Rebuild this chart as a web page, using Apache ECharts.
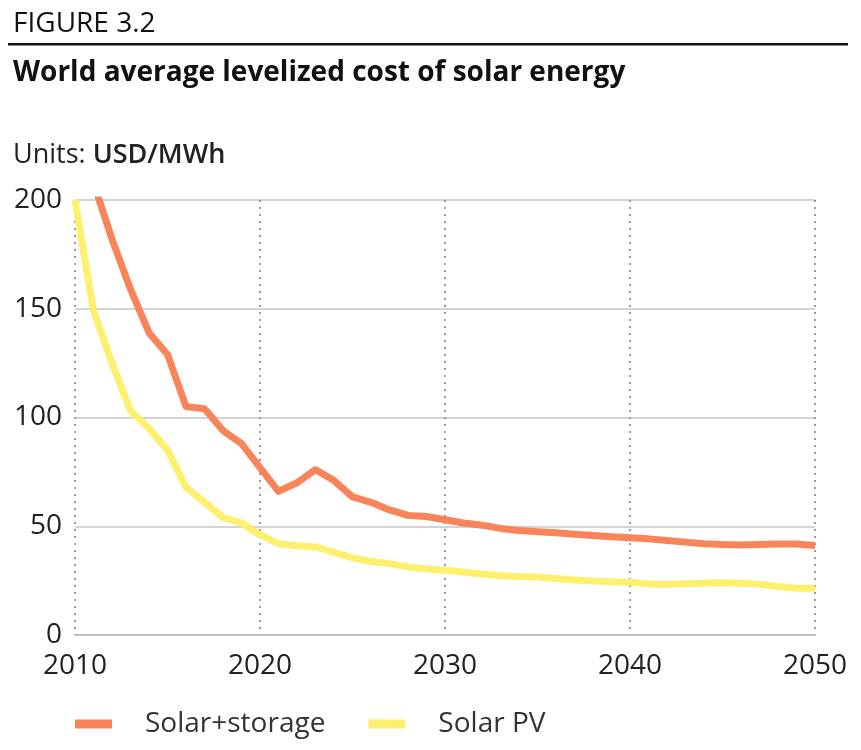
<!DOCTYPE html>
<html>
<head>
<meta charset="utf-8">
<script src="https://cdn.jsdelivr.net/npm/echarts@6/dist/echarts.min.js"></script>
<style>
html,body{margin:0;padding:0;background:#fff;}
#chart{width:861px;height:750px;}
</style>
</head>
<body>
<div id="chart"></div>
<script>
const years = [2010,2011,2012,2013,2014,2015,2016,2017,2018,2019,2020,2021,2022,2023,2024,2025,2026,2027,2028,2029,2030,2031,2032,2033,2034,2035,2036,2037,2038,2039,2040,2041,2042,2043,2044,2045,2046,2047,2048,2049,2050];
const solarStorage = [null,208,182,159,139,129,105,104,94,88,77,66,70,76,71,63.5,61,57.5,55,54.5,53,51.5,50.5,49,48,47.5,47,46.3,45.7,45.2,44.7,44.2,43.5,42.7,42,41.6,41.4,41.6,41.8,41.8,41.2];
const solarPV = [200,149,125,103,95,85,68,61,54,51.5,46,42,41,40.5,38,35.5,33.8,32.8,31.3,30.3,29.8,29,28,27.2,26.9,26.7,26,25.3,24.8,24.5,24.3,23.5,23.3,23.6,23.9,24,23.8,23.3,22.3,21.5,21.5];
const seriesNames = ['Solar+storage','Solar PV'];
const xTicks = [2010,2020,2030,2040,2050];
const yTicks = [0,50,100,150,200];

const FONT = '"Open Sans", Lato, sans-serif';
const chart = echarts.init(document.getElementById('chart'), null, {renderer:'canvas'});
const pairs = vals => years.map((y,i)=>[y, vals[i]]);

chart.setOption({
  animation:false,
  backgroundColor:'#fff',
  title:[
    {text:'FIGURE 3.2', left:8, top:5, textStyle:{fontFamily:FONT, fontWeight:'normal', fontSize:28, color:'#111'}},
    {text:'World average levelized cost of solar energy', left:8, top:54, textStyle:{fontFamily:FONT, fontWeight:'bold', fontSize:28, color:'#111'}},
    {text:'{a|Units: }{b|USD/MWh}', left:8, top:137, textStyle:{rich:{
      a:{fontFamily:FONT, fontWeight:'normal', fontSize:27, color:'#222'},
      b:{fontFamily:FONT, fontWeight:'600', fontSize:27, color:'#222'}}}}
  ],
  graphic:[{type:'rect', shape:{x:8, y:43, width:840, height:2.5}, style:{fill:'#111'}}],
  legend:{
    left:70, top:705, icon:'rect', itemWidth:37, itemHeight:9, itemGap:43,
    data:seriesNames,
    textStyle:{fontFamily:FONT, fontSize:28, color:'#333', padding:[0,0,0,28]}
  },
  grid:{left:75, right:46, top:200, bottom:115, containLabel:false},
  xAxis:{
    type:'value', min:2010, max:2050, interval:10,
    axisLine:{show:true, lineStyle:{color:'#bbb', width:1.5}},
    axisTick:{show:false},
    axisLabel:{fontFamily:FONT, fontSize:28, color:'#222', margin:17,
      formatter:v => xTicks.includes(v) ? String(v) : ''},
    splitLine:{show:true, lineStyle:{color:'#999', type:[2,5], width:2}}
  },
  yAxis:{
    type:'value', min:0, max:200, interval:50,
    axisLine:{show:false},
    axisTick:{show:false},
    axisLabel:{fontFamily:FONT, fontSize:28, color:'#222', margin:13,
      formatter:v => yTicks.includes(v) ? String(v) : ''},
    splitLine:{show:true, lineStyle:{color:'#c4c4c4', width:1.5}}
  },
  series:[
    {name:seriesNames[0], type:'line', data:pairs(solarStorage), showSymbol:false, symbol:'none', clip:true,
      connectNulls:false, lineStyle:{color:'#FA8459', width:7, join:'round'}, itemStyle:{color:'#FA8459'}},
    {name:seriesNames[1], type:'line', data:pairs(solarPV), showSymbol:false, symbol:'none', clip:true,
      lineStyle:{color:'#FCF06E', width:7, join:'round'}, itemStyle:{color:'#FCF06E'}}
  ]
});
</script>
</body>
</html>
